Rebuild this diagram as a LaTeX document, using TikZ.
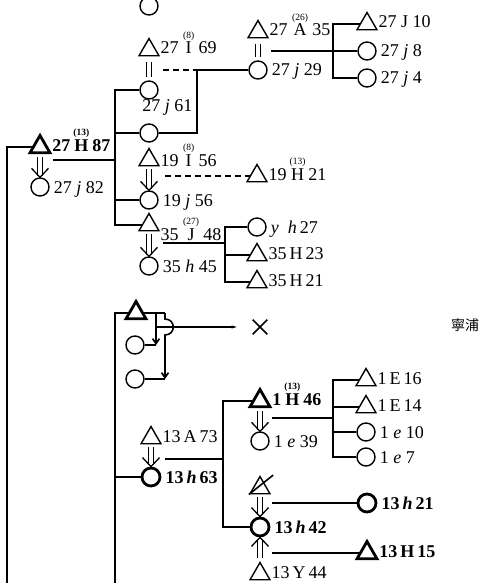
\documentclass[tikz,border=0pt]{standalone}
\usepackage{fontspec}
\usepackage{amsmath}
\setmainfont{Liberation Serif}
\newfontfamily\cjk{Noto Sans CJK JP}
\usetikzlibrary{positioning, arrows.meta, shapes.geometric, shapes.misc, calc, decorations.markings}

% Zahl (Generation) ueber dem Buchstaben
\newcommand{\uenum}[2]{\ensuremath{\overset{\mbox{\fontsize{9.5}{9.5}\selectfont #1}}{\mbox{#2}}}}

\begin{document}
\begin{tikzpicture}[
        x=1pt, y=-1pt,
        font=\fontsize{18}{20}\selectfont,
        otoko/.style={draw, regular polygon, regular polygon sides=3, minimum size=23pt, inner sep=0pt, line width=1.4pt},
        onna/.style={draw, circle, minimum size=18pt, inner sep=0pt, line width=1.4pt},
        futo/.style={line width=2.8pt},
        sen/.style={line width=1.6pt},
        hasen/.style={sen, dash pattern=on 6pt off 4pt},
        lbl/.style={inner sep=0pt, text height=12pt, text depth=0pt},
        tlbl/.style={lbl, yshift=2pt},
        yoshi/.style={double, double distance=4.5pt, line width=1.2pt, shorten <=3pt, shorten >=1.5pt,
            postaction={decorate, decoration={markings, mark=at position 1 with
                {\draw[line width=1.3pt, shorten <=0pt, shorten >=0pt] (-9pt,8.5pt) -- (0pt,0pt) -- (-9pt,-8.5pt);}}}},
        kon/.style={double, double distance=3.5pt, line width=1.2pt, shorten <=6pt, shorten >=3pt},
        yaji/.style={sen, -{Straight Barb[length=5pt, width=7pt]}},
    ]
        \useasboundingbox (0,0) rectangle (485,583);
        % oberer Stamm
        \node[onna] (c0) at (149,6) {};
        \node[otoko] (m27I69) at (149,50) {};
        \node[tlbl, right=4pt of m27I69] (l27I69) {27 \uenum{(8)}{I} 69};
        \node[onna] (c27j61) at (149,90) {};
        \node[lbl, below=2pt of c27j61.south west, anchor=north west] (l27j61) {27 \textit{j} 61};
        \node[onna] (c2) at (149,133) {};
        \node[otoko, futo] (m27H87) at (40,147) {};
        \node[tlbl, right=4pt of m27H87] (l27H87) {\bfseries 27\,\uenum{(13)}{H}\,87};
        \node[onna] (c27j82) at (40,187) {};
        \node[lbl, right=4pt of c27j82] (l27j82) {27 \textit{j} 82};
        \node[otoko] (m19I56) at (149,160) {};
        \node[lbl, right=4pt of m19I56] (l19I56) {19 \uenum{(8)}{I} 56};
        \node[onna] (c19j56) at (149,200) {};
        \node[lbl, right=4pt of c19j56] (l19j56) {19 \textit{j} 56};
        \node[otoko] (m35J48) at (149,225) {};
        \node[lbl, right=4pt of m35J48, yshift=-9pt] (l35J48) {35 \uenum{(27)}{J} 48};
        \node[onna] (c35h45) at (149,266) {};
        \node[lbl, right=4pt of c35h45] (l35h45) {35 \textit{h} 45};
        \node[otoko] (m27A35) at (258,32) {};
        \node[tlbl, right=4pt of m27A35] (l27A35) {27 \uenum{(26)}{A} 35};
        \node[onna] (c27j29) at (258,70) {};
        \node[lbl, right=4pt of c27j29] (l27j29) {27 \textit{j} 29};
        \node[otoko] (m27J10) at (367,24) {};
        \node[tlbl, right=4pt of m27J10] (l27J10) {27 J 10};
        \node[onna] (c27j8) at (367,51) {};
        \node[lbl, right=4pt of c27j8] (l27j8) {27 \textit{j} 8};
        \node[onna] (c27j4) at (367,78) {};
        \node[lbl, right=4pt of c27j4] (l27j4) {27 \textit{j} 4};
        \node[otoko] (m19H21) at (257,176) {};
        \node[tlbl, right=4pt of m19H21] (l19H21) {19\,\uenum{(13)}{H}\,21};
        \node[onna] (cyh27) at (257,227) {};
        \node[lbl, right=4pt of cyh27] (lyh27) {\textit{y}\enspace\textit{h}\,27};
        \node[otoko] (m35H23) at (257,255) {};
        \node[tlbl, right=4pt of m35H23] (l35H23) {35\,H\,23};
        \node[otoko] (m35H21) at (257,282) {};
        \node[tlbl, right=4pt of m35H21] (l35H21) {35\,H\,21};
        % unterer Stamm
        \node[otoko, futo] (m0) at (136,313) {};
        \node[onna] (cA) at (135,345) {};
        \node[onna] (cB) at (135,379) {};
        \node[cross out, draw, line width=1.6pt, minimum size=13pt] (batsu) at (260,327) {};
        \node[font=\cjk\fontsize{14}{14}\selectfont] (chimei) at (465,325) {寧浦};
        \node[otoko] (m13A73) at (151,438) {};
        \node[tlbl, right=4pt of m13A73] (l13A73) {13\,A\,73};
        \node[onna, futo] (c13h63) at (151,477) {};
        \node[lbl, right=4pt of c13h63] (l13h63) {\bfseries 13\,\textit{h}\,63};
        \node[otoko, futo] (m1H46) at (260,401) {};
        \node[tlbl, right=4pt of m1H46] (l1H46) {\bfseries 1\,\uenum{(13)}{H}\,46};
        \node[onna] (c1e39) at (260,441) {};
        \node[lbl, right=4pt of c1e39] (l1e39) {1 \textit{e} 39};
        \node[otoko] (m1E16) at (366,380) {};
        \node[tlbl, right=4pt of m1E16] (l1E16) {1\,E\,16};
        \node[otoko] (m1E14) at (366,407) {};
        \node[tlbl, right=4pt of m1E14] (l1E14) {1\,E\,14};
        \node[onna] (c1e10) at (366,432) {};
        \node[lbl, right=4pt of c1e10] (l1e10) {1 \textit{e} 10};
        \node[onna] (c1e7) at (366,457) {};
        \node[lbl, right=4pt of c1e7] (l1e7) {1 \textit{e} 7};
        \node[otoko] (mX) at (260,488) {};
        \node[onna, futo] (c13h42) at (260,527) {};
        \node[lbl, right=4pt of c13h42] (l13h42) {\bfseries 13\,\textit{h}\,42};
        \node[onna, futo] (c13h21) at (367,503) {};
        \node[lbl, right=4pt of c13h21] (l13h21) {\bfseries 13\,\textit{h}\,21};
        \node[otoko] (m13Y44) at (260,574) {};
        \node[tlbl, right=4pt of m13Y44] (l13Y44) {13\,Y\,44};
        \node[otoko, futo] (m13H15) at (367,553) {};
        \node[tlbl, right=4pt of m13H15] (l13H15) {\bfseries 13\,H\,15};
        % Knickpunkte
        \coordinate (s1) at (7,583);
        \coordinate (s2) at (115,583);
        \coordinate (k1) at (115,160);
        \coordinate (k2) at (197,70);
        \coordinate (k3) at (333,51);
        \coordinate (k4) at (225,243);
        \coordinate (k5) at (223,459);
        \coordinate (k6) at (333,418);
        \coordinate (e1) at (53,160);
        \coordinate (e2) at (163,70);
        \coordinate (e3) at (271,51);
        \coordinate (e4) at (165,176);
        \coordinate (e5) at (163,243);
        \coordinate (e6) at (165,459);
        \coordinate (e7) at (272,418);
        \coordinate (e8) at (272,503);
        \coordinate (e9) at (272,553);
        \coordinate (j1) at (156,313);
        \coordinate (j2) at (165,313);
        % Linien oben
        \draw[futo] (m27H87.west) -| (s1);
        \draw[yoshi] (m27H87.south) -- (c27j82.north);
        \draw[sen] (e1) -- (k1);
        \draw[sen] (c27j61.west) -| (k1) |- (m35J48.west);
        \draw[sen] (c2.west) -- (c2.west -| k1);
        \draw[sen] (c19j56.west) -- (c19j56.west -| k1);
        \draw[kon] (m27I69.south) -- (c27j61.north);
        \draw[hasen] (e2) -- (k2);
        \draw[sen] (c2.east) -| (k2) -- (c27j29.west);
        \draw[kon] (m27A35.south) -- (c27j29.north);
        \draw[sen] (m27J10.west) -| (k3) |- (c27j4.west);
        \draw[sen] (e3) -- (c27j8.west);
        \draw[yoshi] (m19I56.south) -- (c19j56.north);
        \draw[hasen] (e4) -- (m19H21.west);
        \draw[yoshi] (m35J48.south) -- (c35h45.north);
        \draw[sen] (e5) -- (k4);
        \draw[sen] (cyh27.west) -| (k4) |- (m35H21.west);
        \draw[sen] (m35H23.west) -- (m35H23.west -| k4);
        % Linien unten
        \draw[futo] (m0.west) -| (s2);
        \draw[sen] (m0.east) -- (j2);
        \draw[yaji] (j1) -- (j1 |- cA.east);
        \draw[sen] (j1 |- cA.east) -- (cA.east);
        \draw[yaji] (j2) -- (165,319) .. controls (176,319) and (176,335) .. (165,335) -- (j2 |- cB.east);
        \draw[sen] (j2 |- cB.east) -- (cB.east);
        \draw[sen, -{Stealth[length=5pt, width=3pt]}, shorten >=16pt] (j1 |- batsu) -- (batsu.west);
        \draw[futo] (c13h63.west) -- (c13h63.west -| s2);
        \draw[yoshi] (m13A73.south) -- (c13h63.north);
        \draw[futo] (e6) -- (k5);
        \draw[futo] (m1H46.west) -| (k5) |- (c13h42.west);
        \draw[yoshi] (m1H46.south) -- (c1e39.north);
        \draw[sen] (e7) -- (k6);
        \draw[sen] (m1E16.west) -| (k6) |- (c1e7.west);
        \draw[sen] (m1E14.west) -- (m1E14.west -| k6);
        \draw[sen] (c1e10.west) -- (c1e10.west -| k6);
        \draw[sen] (mX.corner 2) -- ([xshift=2pt]mX.corner 1 -| mX.corner 3);
        \draw[yoshi] (mX.south) -- (c13h42.north);
        \draw[futo] (e8) -- (c13h21.west);
        \draw[yoshi] (m13Y44.north) -- (c13h42.south);
        \draw[futo] (e9) -- (m13H15.west);
\end{tikzpicture}
\end{document}
